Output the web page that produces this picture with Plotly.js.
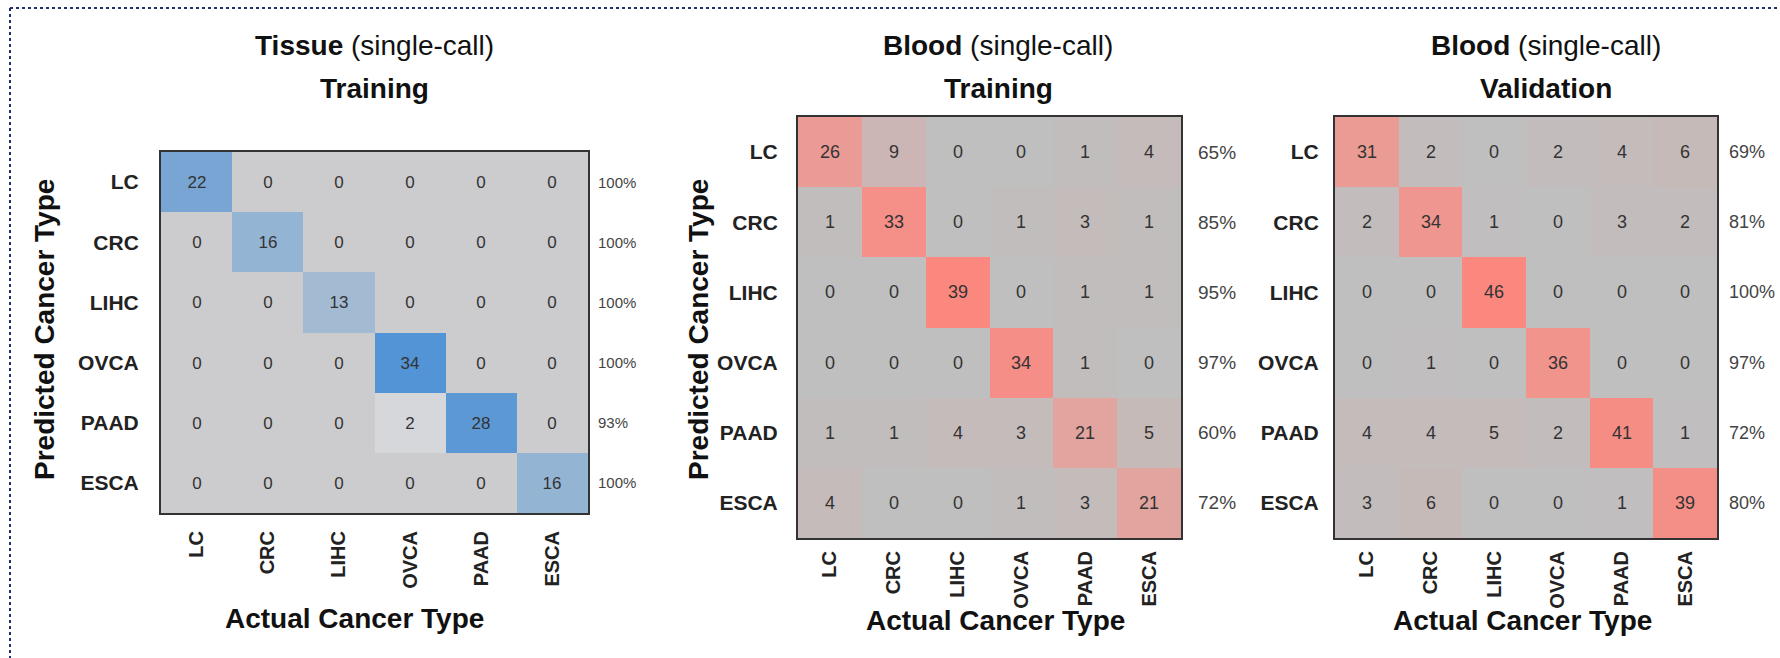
<!DOCTYPE html>
<html>
<head>
<meta charset="utf-8">
<script src="https://cdn.plot.ly/plotly-3.0.1.min.js"></script>
<style>html,body{margin:0;padding:0;background:#fff;}#chart{width:1780px;height:658px;}</style>
</head>
<body>
<div id="chart"></div>
<script>
// ---- data ----
const categories = ['LC', 'CRC', 'LIHC', 'OVCA', 'PAAD', 'ESCA'];
const tissueTraining = [
  [22, 0, 0, 0, 0, 0],
  [0, 16, 0, 0, 0, 0],
  [0, 0, 13, 0, 0, 0],
  [0, 0, 0, 34, 0, 0],
  [0, 0, 0, 2, 28, 0],
  [0, 0, 0, 0, 0, 16]
];
const bloodTraining = [
  [26, 9, 0, 0, 1, 4],
  [1, 33, 0, 1, 3, 1],
  [0, 0, 39, 0, 1, 1],
  [0, 0, 0, 34, 1, 0],
  [1, 1, 4, 3, 21, 5],
  [4, 0, 0, 1, 3, 21]
];
const bloodValidation = [
  [31, 2, 0, 2, 4, 6],
  [2, 34, 1, 0, 3, 2],
  [0, 0, 46, 0, 0, 0],
  [0, 1, 0, 36, 0, 0],
  [4, 4, 5, 2, 41, 1],
  [3, 6, 0, 0, 1, 39]
];
const tissuePct = ['100%', '100%', '100%', '100%', '93%', '100%'];
const bloodTrainingPct = ['65%', '85%', '95%', '97%', '60%', '72%'];
const bloodValidationPct = ['69%', '81%', '100%', '97%', '72%', '80%'];
const panelTitles = [
  ['<b>Tissue</b> (single-call)', '<b>Training</b>'],
  ['<b>Blood</b> (single-call)', '<b>Training</b>'],
  ['<b>Blood</b> (single-call)', '<b>Validation</b>']
];
const xAxisTitle = 'Actual Cancer Type';
const yAxisTitle = 'Predicted Cancer Type';

// ---- layout helpers ----
const W = 1780, H = 658;
const px = v => v / W;
const py = v => 1 - v / H;
const FONT = '"Liberation Sans", Arial, sans-serif';

const blueScale = [
  [0, 'rgb(204,204,206)'], [0.06, 'rgb(214,215,219)'], [0.38, 'rgb(163,186,211)'],
  [0.47, 'rgb(148,180,212)'], [0.65, 'rgb(120,165,212)'], [0.82, 'rgb(92,152,212)'],
  [1, 'rgb(82,148,213)']
];
const redScale = [
  [0, 'rgb(191,191,191)'], [0.03, 'rgb(193,189,189)'], [0.13, 'rgb(198,186,185)'],
  [0.25, 'rgb(204,181,180)'], [0.55, 'rgb(226,163,158)'], [0.7, 'rgb(236,153,146)'],
  [0.87, 'rgb(245,142,134)'], [1, 'rgb(250,136,127)']
];

function hm(z, xa, ya, scale, zmax, fs) {
  return {
    type: 'heatmap', z: z, x: categories, y: categories,
    xaxis: xa, yaxis: ya, colorscale: scale, zmin: 0, zmax: zmax,
    showscale: false, hoverinfo: 'skip', xgap: 0, ygap: 0,
    texttemplate: '%{z}', textfont: {family: FONT, size: fs, color: '#333'}
  };
}

const data = [
  hm(tissueTraining, 'x', 'y', blueScale, 34, 17),
  hm(bloodTraining, 'x2', 'y2', redScale, 39, 18),
  hm(bloodValidation, 'x3', 'y3', redScale, 46, 18)
];

function xax(d0, d1, standoff) {
  return {
    domain: [px(d0), px(d1)], type: 'category', categoryarray: categories,
    showgrid: false, zeroline: false, showline: true, mirror: true,
    linecolor: '#333', linewidth: 2, ticks: '', tickangle: -90,
    ticklabelstandoff: standoff,
    tickfont: {family: FONT, size: 20, color: '#222', weight: 'bold'},
    fixedrange: true
  };
}
function yax(anchor, standoff) {
  return {
    domain: [py(538), py(117)], anchor: anchor, type: 'category', categoryarray: categories,
    autorange: 'reversed', showgrid: false, zeroline: false, showline: true, mirror: true,
    linecolor: '#333', linewidth: 2, ticks: '', ticklabelstandoff: standoff,
    tickfont: {family: FONT, size: 21, color: '#222', weight: 'bold'},
    fixedrange: true
  };
}

const layout = {
  width: W, height: H,
  margin: {l: 0, r: 0, t: 0, b: 0},
  paper_bgcolor: '#fff', plot_bgcolor: '#fff',
  showlegend: false,
  xaxis: Object.assign(xax(161, 588, 8), {anchor: 'y'}),
  yaxis: Object.assign(yax('x', 16), {domain: [py(513), py(152)]}),
  xaxis2: Object.assign(xax(798, 1181, 3), {anchor: 'y2'}),
  yaxis2: yax('x2', 14),
  xaxis3: Object.assign(xax(1335, 1717, 3), {anchor: 'y3'}),
  yaxis3: yax('x3', 10),
  annotations: [],
  shapes: [
    {type: 'line', xref: 'paper', yref: 'paper', x0: px(10), x1: 1, y0: py(8), y1: py(8),
     line: {color: '#1c2f6e', width: 2, dash: 'dot'}},
    {type: 'line', xref: 'paper', yref: 'paper', x0: px(10), x1: px(10), y0: py(8), y1: 0,
     line: {color: '#1c2f6e', width: 2, dash: 'dot'}}
  ]
};

const titleCenters = [374, 998, 1546];
panelTitles.forEach((t, i) => {
  layout.annotations.push({xref: 'paper', yref: 'paper', x: px(titleCenters[i]), y: py(45),
    text: t[0], showarrow: false, xanchor: 'center', yanchor: 'middle',
    font: {family: FONT, size: 28, color: '#111'}});
  layout.annotations.push({xref: 'paper', yref: 'paper', x: px(titleCenters[i]), y: py(88),
    text: t[1], showarrow: false, xanchor: 'center', yanchor: 'middle',
    font: {family: FONT, size: 28, color: '#111'}});
});

// x-axis titles
[[354, 618], [996, 620], [1522, 620]].forEach(p => {
  layout.annotations.push({xref: 'paper', yref: 'paper', x: px(p[0]), y: py(p[1]),
    text: '<b>' + xAxisTitle + '</b>', showarrow: false, xanchor: 'center', yanchor: 'middle',
    font: {family: FONT, size: 28, color: '#111'}});
});
// y-axis titles
[[44, 330], [698, 330]].forEach(p => {
  layout.annotations.push({xref: 'paper', yref: 'paper', x: px(p[0]), y: py(p[1]),
    text: '<b>' + yAxisTitle + '</b>', showarrow: false, textangle: -90,
    xanchor: 'center', yanchor: 'middle',
    font: {family: FONT, size: 28, color: '#111'}});
});

// row accuracy labels
function pctLabels(pcts, xa, ya, xoff, fs) {
  pcts.forEach((p, i) => {
    layout.annotations.push({xref: xa + ' domain', yref: ya, x: 1, y: categories[i],
      xshift: xoff, text: p, showarrow: false, xanchor: 'left', yanchor: 'middle',
      font: {family: FONT, size: fs, color: '#444'}});
  });
}
pctLabels(tissuePct, 'x', 'y', 8, 15);
pctLabels(bloodTrainingPct, 'x2', 'y2', 15, 19);
pctLabels(bloodValidationPct, 'x3', 'y3', 10, 18);

Plotly.newPlot('chart', data, layout, {displayModeBar: false, staticPlot: true});
</script>
</body>
</html>
